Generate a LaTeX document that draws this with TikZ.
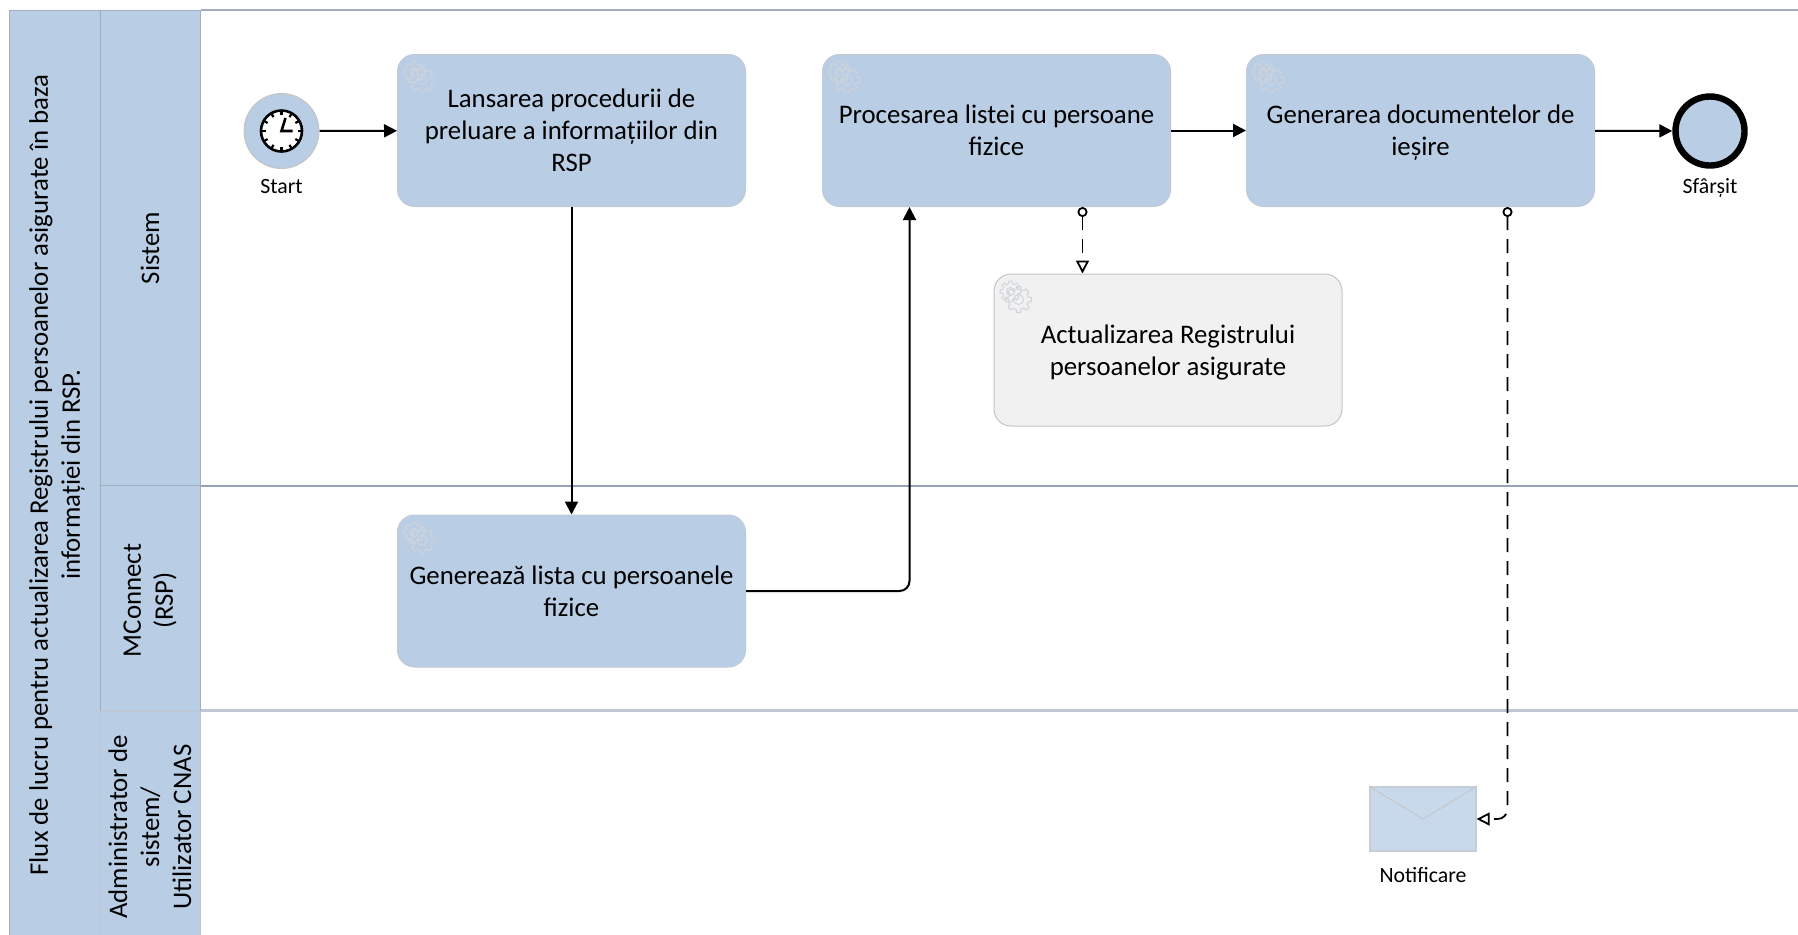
\documentclass[tikz,border=0pt]{standalone}
\usepackage{fontspec}
\setmainfont{Carlito}
\usetikzlibrary{positioning, arrows.meta, calc}
\definecolor{taskblue}{rgb}{0.725, 0.804, 0.898}
\definecolor{mailblue}{rgb}{0.788, 0.851, 0.925}
\definecolor{taskedge}{rgb}{0.76, 0.79, 0.83}
\definecolor{greyfill}{rgb}{0.945, 0.945, 0.945}
\definecolor{greyedge}{rgb}{0.77, 0.77, 0.77}
\definecolor{gearline}{rgb}{0.81, 0.83, 0.86}
\definecolor{linedark}{rgb}{0.58, 0.64, 0.71}
\definecolor{linelight}{rgb}{0.75, 0.78, 0.83}

\begin{document}
\begin{tikzpicture}[
  x=0.5pt,
  y=-0.5pt,
  header/.style={
    rotate=90,
    fill=taskblue,
    draw=linedark!70!linelight,
    line width=0.5pt,
    inner sep=0pt,
    align=center,
    font=\fontsize{13.4}{16}\selectfont
  },
  task/.style={
    rectangle,
    rounded corners=8.5pt,
    fill=taskblue,
    draw=taskedge,
    line width=0.5pt,
    minimum width=174pt,
    minimum height=76pt,
    inner sep=0pt,
    text depth=0pt,
    align=center,
    font=\fontsize{13.4}{16}\selectfont
  },
  caption/.style={
    inner sep=0pt,
    font=\fontsize{10.9}{12}\selectfont
  },
  flow/.style={
    -{Triangle[length=6.5pt,width=6.5pt]},
    line width=1pt,
    draw=black
  },
  assoc/.style={
    {Circle[open,length=5pt,width=5pt]}-{Triangle[open,length=6.5pt,width=6.5pt]},
    line width=0.9pt,
    dash pattern=on 7pt off 4.5pt,
    draw=black
  },
  laneline/.style={line width=1.4pt},
  gear mark/.pic={
    \foreach \cx/\cy/\r in {17/18/8, 25/26/10} {
      \draw[draw=gearline,line width=0.5pt] (\cx,\cy) circle (\r*0.5);
      \foreach \a in {0,45,...,315} {
        \draw[draw=gearline,line width=0.5pt]
          ($(\cx,\cy)+(\a-14:\r)$) -- ($(\cx,\cy)+(\a-9:\r*1.3)$)
          -- ($(\cx,\cy)+(\a+9:\r*1.3)$) -- ($(\cx,\cy)+(\a+14:\r)$)
          -- ($(\cx,\cy)+(\a+31:\r)$);
      }
    }
  }
]
\useasboundingbox (0,0) rectangle (1798,934);

\coordinate (paneEnd) at (1798,0);

% headers
\node(pool)[header,minimum width=465pt,minimum height=48pt] at (57,475)
  {Flux de lucru pentru actualizarea Registrului persoanelor asigurate în baza\\ informației din RSP.};
\node(headSistem)[header,minimum width=237.5pt,minimum height=50pt] at (150,248) {Sistem};
\node(headMconnect)[header,minimum width=115.5pt,minimum height=50pt] at (150,600.5) {MConnect\\ (RSP)};
\node(headAdmin)[header,draw=linelight,minimum width=116pt,minimum height=50pt] at (150,827) {Administrator de\\ sistem/\\ Utilizator CNAS};

\draw[laneline,draw=linedark!70!linelight] (headSistem.south |- headSistem.east) -- (headSistem.east -| paneEnd);
\draw[laneline,draw=linedark] (headSistem.south |- headSistem.west) -- (headSistem.west -| paneEnd);
\draw[laneline,draw=linelight] (headAdmin.south |- headAdmin.east) -- (headAdmin.east -| paneEnd);

% tasks
\node(lansare)[task] at (571.5,130.5) {Lansarea procedurii de\\ preluare a informațiilor din\\ RSP};
\node(procesare)[task,right=38pt of lansare] {Procesarea listei cu persoane\\ fizice};
\node(generare)[task,right=37.5pt of procesare] {Generarea documentelor de\\ ieșire};
\node(actualizare)[task,fill=greyfill,draw=greyedge] at (1168,350) {Actualizarea Registrului\\ persoanelor asigurate};
\node(genereaza)[task] at (571.5,591) {Generează lista cu persoanele\\ fizice};

\foreach \tasknode in {lansare,procesare,generare,actualizare,genereaza}
  \pic at (\tasknode.north west) {gear mark};

% events
\node(start)[circle,fill=taskblue,draw=greyedge,line width=0.5pt,minimum size=37.5pt,inner sep=0pt] at (281.5,131) {};
\node(startLabel)[caption,below=5pt of start] {Start};
\node(clock)[circle,fill=white,draw=black,line width=1.3pt,minimum size=20.5pt,inner sep=0pt] at (start.center) {};
\foreach \a in {0,30,...,330}
  \draw[line width=1.1pt] (clock.center) ++(\a:21) -- ++(\a:-5);
\draw[line width=1.3pt] ([xshift=2pt,yshift=6.5pt]clock.center) -- (clock.center) -- ++(11,0);

\node(sfarsit)[circle,fill=taskblue,draw=black,line width=3.2pt,minimum size=34.5pt,inner sep=0pt] at (1710,131) {};
\node(sfarsitLabel)[caption,below=4.5pt of sfarsit] {Sfârșit};

% message
\node(mesaj)[rectangle,fill=mailblue,draw=greyedge!60!mailblue,line width=0.6pt,minimum width=53pt,minimum height=32pt,inner sep=0pt] at (1423,819) {};
\node(mesajLabel)[caption,below=7.5pt of mesaj] {Notificare};
\draw[draw=greyedge,line width=0.4pt] (mesaj.north west) -- (mesaj.center) -- (mesaj.north east);

% connectors
\coordinate (assocTop) at ([xshift=43pt]procesare.south);
\draw[flow] (start) -- (lansare);
\draw[flow] (lansare) -- (genereaza);
\draw[flow,rounded corners=5pt] (genereaza.east) -| ([xshift=-43.5pt]procesare.south);
\draw[flow] (procesare) -- (generare);
\draw[flow] (generare) -- (sfarsit);
\draw[assoc] (assocTop) -- (assocTop |- actualizare.north);
\draw[assoc,rounded corners=5pt] ([xshift=43.5pt]generare.south) |- (mesaj.east);

\end{tikzpicture}
\end{document}
